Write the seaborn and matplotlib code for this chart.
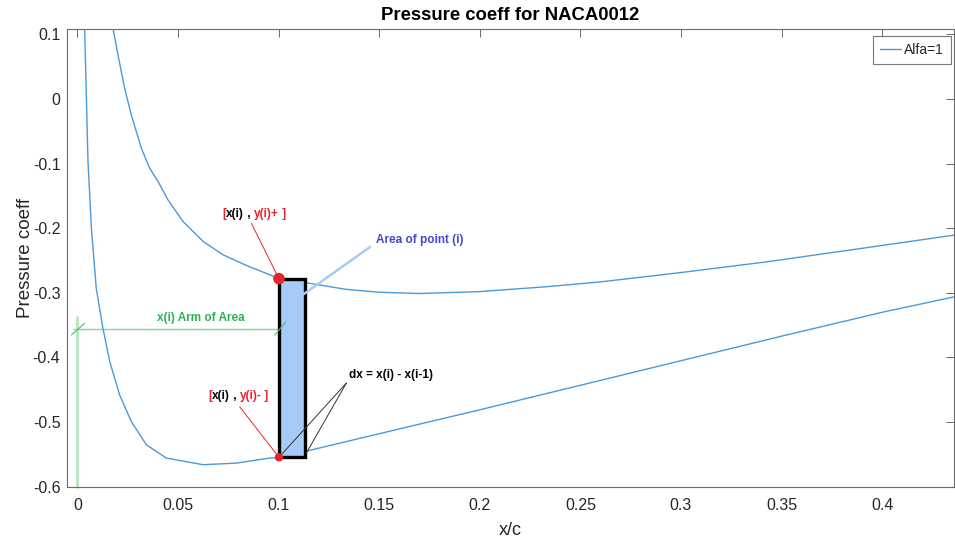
import matplotlib
matplotlib.use("Agg")
import matplotlib.pyplot as plt
from matplotlib.patches import Rectangle
import numpy as np
import pandas as pd
import seaborn as sns

# ---------------- data ----------------
upper_x = [0.0172, 0.0177, 0.0202, 0.0235, 0.0268, 0.0318, 0.0359, 0.0401,
           0.045, 0.0525, 0.0625, 0.0724, 0.084, 0.0956, 0.1002, 0.113,
           0.1337, 0.150, 0.170, 0.200, 0.233, 0.260, 0.300, 0.3425, 0.390, 0.436]
upper_cp = [0.125, 0.1099, 0.0686, 0.017, -0.0243, -0.0759, -0.1068, -0.1275,
            -0.1558, -0.1894, -0.2203, -0.241, -0.2575, -0.2719, -0.278, -0.284,
            -0.2946, -0.299, -0.301, -0.298, -0.2905, -0.283, -0.2685, -0.252,
            -0.231, -0.2105]
lower_x = [0.0036, 0.00363, 0.00447, 0.0053, 0.0070, 0.0094, 0.0127, 0.0161,
           0.021, 0.0268, 0.0343, 0.0442, 0.0625, 0.079, 0.0956, 0.1002, 0.1138,
           0.150, 0.200, 0.250, 0.300, 0.350, 0.400, 0.436]
lower_cp = [0.125, 0.1099, 0.0067, -0.0965, -0.1997, -0.2926, -0.3545, -0.406,
            -0.4577, -0.499, -0.5351, -0.5557, -0.566, -0.5635, -0.5557, -0.555,
            -0.545, -0.518, -0.481, -0.443, -0.405, -0.367, -0.330, -0.306]

series_label = "Alfa=1"
x_i = 0.1002
dx = 0.0131
cp_plus = -0.278
cp_minus = -0.5545

x_ticks = [0, 0.05, 0.1, 0.15, 0.2, 0.25, 0.3, 0.35, 0.4]
y_ticks = [0.1, 0, -0.1, -0.2, -0.3, -0.4, -0.5, -0.6]

title = "Pressure coeff for NACA0012"
xlabel = "x/c"
ylabel = "Pressure coeff"

# ---------------- styling ----------------
sns.set_style("white")
plt.rcParams["font.family"] = ["Liberation Sans", "DejaVu Sans"]

LINE_C = "#4a9ad9"
AX_C = "#6a6a6a"
TXT_C = "#262626"
RED = "#e8232b"
GREEN_TXT = "#2db34e"
GREEN_LINE = "#86d69b"
GREEN_LIGHT = "#b6e6c0"
BLUE_TXT = "#4646cf"
BLUE_LEADER = "#a3cdf7"
RECT_FACE = "#a6cbf6"

fig = plt.figure(figsize=(9.55, 5.43), dpi=100)
ax = fig.add_axes([0.0698, 0.1037, 0.9292, 0.8434])

# curve: lower surface (TE -> LE) followed by upper surface (LE -> TE)
df = pd.DataFrame({
    "x": list(reversed(lower_x)) + upper_x,
    "cp": list(reversed(lower_cp)) + upper_cp,
})
sns.lineplot(data=df, x="x", y="cp", sort=False, estimator=None, ax=ax,
             color=LINE_C, lw=1.0, label=series_label, zorder=3)

# area rectangle
ax.add_patch(Rectangle((x_i, cp_minus), dx, cp_plus - cp_minus,
                       facecolor=RECT_FACE, edgecolor="black", lw=2.4, zorder=4))

# green arm of area
ax.plot([0, 0], [-0.337, -0.6], color=GREEN_LIGHT, lw=2.0, zorder=2, clip_on=False)
ax.plot([-0.0023, 0.1049], [-0.3565, -0.3565], color=GREEN_LINE, lw=1.0, zorder=2)
ax.plot([-0.0030, 0.0036], [-0.3653, -0.3472], color="#4cbf6a", lw=0.8, zorder=5)
ax.plot([0.0981, 0.1036], [-0.3653, -0.3447], color="#4cbf6a", lw=0.8, zorder=5)
ax.text(0.0615, -0.3385, "x(i) Arm of Area", color=GREEN_TXT, fontsize=8.5,
        fontweight="bold", ha="center", va="center", zorder=6)

# leader lines
ax.plot([0.0865, x_i], [-0.1923, cp_plus], color=RED, lw=0.7, zorder=5)
ax.plot([0.0807, x_i], [-0.4763, cp_minus], color=RED, lw=0.7, zorder=5)
ax.plot([0.1454, 0.1125], [-0.2291, -0.3019], color=BLUE_LEADER, lw=1.8, zorder=5)
ax.plot([0.1337, x_i], [-0.4396, cp_minus], color="#333333", lw=0.7, zorder=5)
ax.plot([0.1337, 0.1138], [-0.4396, -0.5480], color="#333333", lw=0.7, zorder=5)

# points
sns.scatterplot(x=[x_i], y=[cp_plus], ax=ax, color=RED, s=70, edgecolor="none",
                zorder=7, legend=False)
sns.scatterplot(x=[x_i], y=[cp_minus], ax=ax, color=RED, s=36, edgecolor="none",
                zorder=7, legend=False)

# texts
ax.text(0.1702, -0.2183, "Area of point (i)", color=BLUE_TXT, fontsize=8.5,
        fontweight="bold", ha="center", va="center", zorder=6)
ax.text(0.1558, -0.4272, "dx = x(i) - x(i-1)", color="black", fontsize=8.5,
        fontweight="bold", ha="center", va="center", zorder=6)


def rich_text(ax, x, y, parts):
    t = ax.text(x, y, parts[0][0], color=parts[0][1], fontsize=8.5,
                fontweight="bold", ha="left", va="center", zorder=6)
    for s, c in parts[1:]:
        t = ax.annotate(s, xy=(1, 0), xycoords=t, va="bottom", ha="left",
                        color=c, fontsize=8.5, fontweight="bold", zorder=6)


rich_text(ax, 0.0721, -0.178, [("[", RED), ("x(i)", "black"), (" , ", "black"),
                               ("y(i)+", RED), (" ]", RED)])
rich_text(ax, 0.0649, -0.4593, [("[", RED), ("x(i)", "black"), (" , ", "black"),
                                ("y(i)-", RED), (" ]", RED)])

# axes
ax.set_xlim(-0.0053, 0.4357)
ax.set_ylim(-0.6, 0.1089)
ax.set_xticks(x_ticks)
ax.set_xticklabels([f"{v:g}" for v in x_ticks])
ax.set_yticks(y_ticks)
ax.set_yticklabels([f"{v:g}" for v in y_ticks])
ax.tick_params(direction="in", length=5.8, width=0.7, color=AX_C,
               labelsize=11.5, labelcolor=TXT_C, top=True, right=True)
ax.tick_params(axis="x", pad=8)
ax.tick_params(axis="y", pad=4.5)
for sp in ax.spines.values():
    sp.set_color(AX_C)
    sp.set_linewidth(0.8)

ax.set_title(title, fontsize=13.3, fontweight="bold", color="black", pad=6)
ax.set_xlabel(xlabel, fontsize=13, color=TXT_C, labelpad=6.7)
ax.set_ylabel(ylabel, fontsize=13.5, color=TXT_C, labelpad=-1)

leg = ax.legend(loc="upper right", bbox_to_anchor=(0.9966, 0.984), fontsize=10,
                frameon=True, fancybox=False, borderaxespad=0.0, handlelength=1.5,
                handletextpad=0.25, borderpad=0.5)
leg.get_frame().set_edgecolor("#555555")
leg.get_frame().set_linewidth(0.8)

fig.savefig("out.png", dpi=100, facecolor="white")
